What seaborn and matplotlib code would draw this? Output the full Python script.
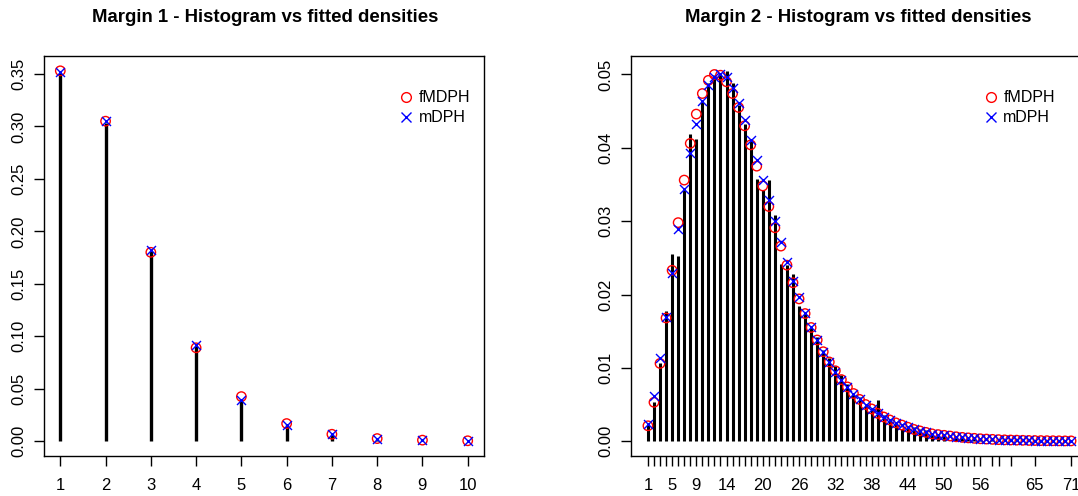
import numpy as np
import matplotlib
matplotlib.use("Agg")
import matplotlib.pyplot as plt
import seaborn as sns
from matplotlib.lines import Line2D

# ---------------- data ----------------
m1_x = [1, 2, 3, 4, 5, 6, 7, 8, 9, 10]
m1_freq = [0.351, 0.303, 0.181, 0.091, 0.040, 0.016, 0.0068, 0.0022, 0.0009, 0.0004]
m1_fmdph = [0.353, 0.305, 0.180, 0.089, 0.0425, 0.0168, 0.0066, 0.0025, 0.0010, 0.0004]
m1_mdph = [0.352, 0.305, 0.182, 0.092, 0.0395, 0.0150, 0.0064, 0.0024, 0.0009, 0.0003]
m1_ticks = [1, 2, 3, 4, 5, 6, 7, 8, 9, 10]
m1_yticks = [0.00, 0.05, 0.10, 0.15, 0.20, 0.25, 0.30, 0.35]

m2_obs_x = list(range(1, 51)) + [52, 53, 54, 55, 56, 58, 59, 61, 65, 71]
m2_freq = [0.0022, 0.0054, 0.0106, 0.0178, 0.0255, 0.0253, 0.0342, 0.0419, 0.0412, 0.0465,
           0.0488, 0.0499, 0.0500, 0.0505, 0.0489, 0.0458, 0.0432, 0.0412, 0.0358, 0.0342,
           0.0356, 0.0309, 0.0242, 0.0240, 0.0228, 0.0185, 0.0176, 0.0155, 0.0142, 0.0125,
           0.0113, 0.0102, 0.0090, 0.0078, 0.0066, 0.0060, 0.0050, 0.0043, 0.0056, 0.0036,
           0.0030, 0.0026, 0.0016, 0.0018, 0.0020, 0.0017, 0.0015, 0.0010, 0.0010, 0.0007,
           0.0004, 0.0004, 0.0003, 0.0003, 0.0003, 0.0001, 0.0001, 0.0001, 0.0001, 0.0001]
m2_grid = list(range(1, 72))
m2_fmdph = [0.0021, 0.0053, 0.0106, 0.0168, 0.0233, 0.0298, 0.0356, 0.0406, 0.0446, 0.0474,
            0.0492, 0.0500, 0.0499, 0.0490, 0.0474, 0.0455, 0.0430, 0.0404, 0.0375, 0.0348,
            0.0320, 0.0291, 0.0266, 0.0240, 0.0216, 0.0194, 0.0174, 0.0155, 0.0138, 0.0122,
            0.0108, 0.0096, 0.0084, 0.0074, 0.0065, 0.0057, 0.0050, 0.0044, 0.0038, 0.0033,
            0.0029, 0.0025, 0.0022, 0.0019, 0.0016, 0.0014, 0.0012, 0.0010, 0.0009, 0.0008,
            0.0007, 0.0006, 0.00052, 0.00045, 0.00039, 0.00033, 0.00029, 0.00025, 0.00021, 0.00018,
            0.00016, 0.00014, 0.00012, 0.00010, 0.00009, 0.00008, 0.00007, 0.00006, 0.00005, 0.00004,
            0.00004]
m2_mdph = [0.0023, 0.0062, 0.0113, 0.0170, 0.0229, 0.0289, 0.0344, 0.0393, 0.0433, 0.0464,
           0.0485, 0.0497, 0.0500, 0.0496, 0.0481, 0.0461, 0.0438, 0.0411, 0.0384, 0.0356,
           0.0329, 0.0300, 0.0272, 0.0244, 0.0219, 0.0196, 0.0175, 0.0156, 0.0138, 0.0122,
           0.0108, 0.0095, 0.0084, 0.0074, 0.0065, 0.0057, 0.0050, 0.0044, 0.0038, 0.0033,
           0.0029, 0.0025, 0.0022, 0.0019, 0.0016, 0.0014, 0.0012, 0.0010, 0.0009, 0.0008,
           0.0007, 0.0006, 0.00052, 0.00045, 0.00039, 0.00033, 0.00029, 0.00025, 0.00021, 0.00018,
           0.00016, 0.00014, 0.00012, 0.00010, 0.00009, 0.00008, 0.00007, 0.00006, 0.00005, 0.00004,
           0.00004]
m2_shown_labels = [1, 5, 9, 14, 20, 26, 32, 38, 44, 50, 56, 65, 71]
m2_yticks = [0.00, 0.01, 0.02, 0.03, 0.04, 0.05]

titles = ["Margin 1 - Histogram vs fitted densities", "Margin 2 - Histogram vs fitted densities"]
legend_labels = ["fMDPH", "mDPH"]

# ---------------- style ----------------
sns.set_style("white")
plt.rcParams['font.family'] = ['Liberation Sans', 'DejaVu Sans']
plt.rcParams['text.color'] = 'black'
plt.rcParams['xtick.color'] = 'black'
plt.rcParams['ytick.color'] = 'black'
plt.rcParams['axes.labelcolor'] = 'black'

fig = plt.figure(figsize=(10.78, 4.96), dpi=100)
W, H = 1078, 496


def add_ax(left, top, right, bottom):
    return fig.add_axes([left / W, 1 - bottom / H, (right - left) / W, (bottom - top) / H])


ax1 = add_ax(44, 56, 484, 456)
ax2 = add_ax(631, 56, 1088, 456)


def draw_panel(ax, bx, by, gx, f1, f2, ms_o, ms_x, lw):
    ax.vlines(bx, 0, by, color="black", linewidth=lw, zorder=1)
    sns.scatterplot(x=gx, y=f1, ax=ax, marker="o", s=ms_o, facecolor="none",
                    edgecolor="red", linewidth=1.0, zorder=2, legend=False)
    sns.scatterplot(x=gx, y=f2, ax=ax, marker="x", s=ms_x, color="blue",
                    linewidth=1.0, zorder=3, legend=False)
    for s in ax.spines.values():
        s.set_color("black")
        s.set_linewidth(1.0)
    ax.tick_params(axis="x", direction="out", length=7, width=1, colors="black",
                   labelsize=12, pad=9, bottom=True)
    ax.tick_params(axis="y", direction="out", length=7, width=1, colors="black",
                   labelsize=12, pad=6, left=True)
    ax.grid(False)


# Left panel
draw_panel(ax1, m1_x, m1_freq, m1_x, m1_fmdph, m1_mdph, 46, 42, 2.4)
ax1.set_xlim(1 - 0.04 * 9, 10 + 0.04 * 9)
ax1.set_ylim(-0.04 * 0.353, 0.353 * 1.04)
ax1.set_xticks(m1_ticks)
ax1.set_xticklabels([str(t) for t in m1_ticks])
ax1.set_yticks(m1_yticks)
ax1.set_yticklabels([f"{t:.2f}" for t in m1_yticks], rotation=90, va="center")

# Right panel
draw_panel(ax2, m2_obs_x, m2_freq, m2_grid, m2_fmdph, m2_mdph, 46, 42, 2.2)
ax2.set_xlim(1 - 0.04 * 70, 71 + 0.04 * 70)
ax2.set_ylim(-0.04 * 0.0505, 0.0505 * 1.04)
ax2.set_xticks(m2_obs_x)
ax2.set_xticklabels([str(t) if t in m2_shown_labels else "" for t in m2_obs_x])
ax2.set_yticks(m2_yticks)
ax2.set_yticklabels([f"{t:.2f}" for t in m2_yticks], rotation=90, va="center")

# Titles
fig.text(265 / W, 1 - 18 / H, titles[0], ha="center", va="center",
         fontsize=13.4, fontweight="bold", color="black")
fig.text(858 / W, 1 - 18 / H, titles[1], ha="center", va="center",
         fontsize=13.4, fontweight="bold", color="black")

# Legends
handles = [Line2D([], [], linestyle="none", marker="o", markerfacecolor="none",
                  markeredgecolor="red", markersize=7, markeredgewidth=1.0),
           Line2D([], [], linestyle="none", marker="x", color="blue",
                  markersize=7, markeredgewidth=1.0)]
for ax, xa in [(ax1, 0.786), (ax2, 0.752)]:
    ax.legend(handles, legend_labels, loc="upper left", bbox_to_anchor=(xa, 0.93),
              frameon=False, fontsize=11.5, handletextpad=0.2, labelspacing=0.3,
              handlelength=1.2, borderaxespad=0)

fig.savefig("out.png", dpi=100)
